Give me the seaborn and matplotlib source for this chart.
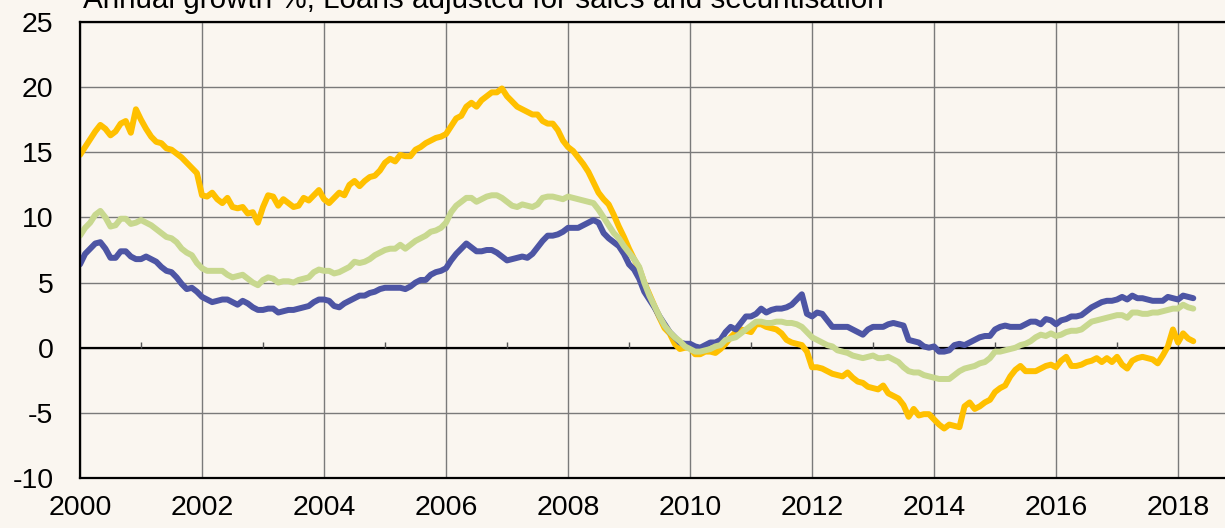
import numpy as np
import pandas as pd
import matplotlib
matplotlib.use("Agg")
import matplotlib.pyplot as plt
import seaborn as sns

# Monthly observations, Jan 2000 - Apr 2018
months = pd.date_range("2000-01-01", periods=220, freq="MS")

corporates = [
    14.8, 15.4, 16.0, 16.6, 17.1, 16.8, 16.3, 16.6, 17.2, 17.4, 16.5, 18.3,
    17.5, 16.8, 16.2, 15.8, 15.7, 15.3, 15.2, 14.9, 14.6, 14.2, 13.8, 13.4,
    11.7, 11.6, 11.9, 11.4, 11.1, 11.5, 10.8, 10.7, 10.8, 10.3, 10.4, 9.6,
    10.8, 11.7, 11.6, 10.9, 11.4, 11.1, 10.8, 10.9, 11.5, 11.3, 11.7, 12.1,
    11.4, 11.1, 11.5, 11.9, 11.7, 12.5, 12.8, 12.4, 12.8, 13.1, 13.2, 13.6,
    14.2, 14.5, 14.3, 14.8, 14.7, 14.7, 15.2, 15.4, 15.7, 15.9, 16.1, 16.2,
    16.4, 17.0, 17.6, 17.8, 18.5, 18.8, 18.5, 19.0, 19.3, 19.6, 19.6, 19.9,
    19.3, 18.9, 18.5, 18.3, 18.1, 17.9, 17.9, 17.4, 17.2, 17.2, 16.7, 15.9,
    15.4, 15.1, 14.6, 14.1, 13.5, 12.7, 11.9, 11.4, 11.0, 10.2, 9.3, 8.5,
    7.6, 6.8, 6.1, 5.0, 4.1, 3.2, 2.3, 1.5, 1.1, 0.3, -0.1, 0.0,
    0.0, -0.5, -0.5, -0.3, -0.3, -0.4, -0.1, 0.3, 0.8, 1.2, 1.4, 1.3,
    1.2, 1.8, 1.8, 1.6, 1.5, 1.4, 1.1, 0.6, 0.4, 0.3, 0.2, -0.3,
    -1.5, -1.5, -1.6, -1.8, -2.0, -2.1, -2.2, -1.9, -2.3, -2.6, -2.7, -3.0,
    -3.1, -3.2, -2.9, -3.5, -3.7, -3.9, -4.4, -5.3, -4.7, -5.2, -5.1, -5.1,
    -5.5, -5.9, -6.2, -5.9, -6.0, -6.1, -4.5, -4.2, -4.7, -4.5, -4.2, -4.0,
    -3.4, -3.1, -2.9, -2.2, -1.7, -1.4, -1.8, -1.8, -1.8, -1.6, -1.4, -1.3,
    -1.5, -1.0, -0.7, -1.4, -1.4, -1.3, -1.1, -1.0, -0.8, -1.1, -0.8, -1.1,
    -0.7, -1.3, -1.6, -1.0, -0.8, -0.7, -0.8, -0.9, -1.2, -0.6, 0.1, 1.4,
    0.4, 1.1, 0.7, 0.5,
]

households = [
    6.4, 7.2, 7.6, 8.0, 8.1, 7.6, 6.9, 6.9, 7.4, 7.4, 7.0, 6.8,
    6.8, 7.0, 6.8, 6.6, 6.2, 5.9, 5.8, 5.4, 4.9, 4.5, 4.6, 4.3,
    3.9, 3.7, 3.5, 3.6, 3.7, 3.7, 3.5, 3.3, 3.6, 3.4, 3.1, 2.9,
    2.9, 3.0, 3.0, 2.7, 2.8, 2.9, 2.9, 3.0, 3.1, 3.2, 3.5, 3.7,
    3.7, 3.6, 3.2, 3.1, 3.4, 3.6, 3.8, 4.0, 4.0, 4.2, 4.3, 4.5,
    4.6, 4.6, 4.6, 4.6, 4.5, 4.7, 5.0, 5.2, 5.2, 5.6, 5.8, 5.9,
    6.1, 6.7, 7.2, 7.6, 8.0, 7.7, 7.4, 7.4, 7.5, 7.5, 7.3, 7.0,
    6.7, 6.8, 6.9, 7.0, 6.9, 7.2, 7.7, 8.2, 8.6, 8.6, 8.7, 8.9,
    9.2, 9.2, 9.2, 9.4, 9.6, 9.8, 9.6, 8.8, 8.4, 8.1, 7.8, 7.2,
    6.4, 6.0, 5.3, 4.3, 3.7, 3.1, 2.4, 1.8, 1.2, 0.8, 0.4, 0.3,
    0.3, 0.1, 0.0, 0.2, 0.4, 0.4, 0.6, 1.2, 1.6, 1.4, 1.9, 2.4,
    2.4, 2.6, 3.0, 2.7, 2.9, 3.0, 3.0, 3.1, 3.3, 3.7, 4.1, 2.6,
    2.4, 2.7, 2.6, 2.1, 1.6, 1.6, 1.6, 1.6, 1.4, 1.2, 1.0, 1.4,
    1.6, 1.6, 1.6, 1.8, 1.9, 1.8, 1.7, 0.6, 0.5, 0.4, 0.1, 0.0,
    0.1, -0.3, -0.3, -0.2, 0.2, 0.3, 0.2, 0.4, 0.6, 0.8, 0.9, 0.9,
    1.4, 1.6, 1.7, 1.6, 1.6, 1.6, 1.8, 2.0, 2.0, 1.8, 2.2, 2.1,
    1.8, 2.1, 2.2, 2.4, 2.4, 2.5, 2.8, 3.1, 3.3, 3.5, 3.6, 3.6,
    3.7, 3.9, 3.7, 4.0, 3.8, 3.8, 3.7, 3.6, 3.6, 3.6, 3.9, 3.8,
    3.7, 4.0, 3.9, 3.8,
]

total = [
    8.6, 9.2, 9.6, 10.2, 10.5, 10.0, 9.3, 9.4, 9.9, 9.9, 9.5, 9.6,
    9.8, 9.6, 9.4, 9.1, 8.8, 8.5, 8.4, 8.1, 7.6, 7.3, 7.1, 6.5,
    6.1, 5.9, 5.9, 5.9, 5.9, 5.6, 5.4, 5.5, 5.6, 5.3, 5.0, 4.8,
    5.2, 5.4, 5.3, 5.0, 5.1, 5.1, 5.0, 5.2, 5.3, 5.4, 5.8, 6.0,
    5.9, 5.9, 5.7, 5.8, 6.0, 6.2, 6.6, 6.5, 6.6, 6.8, 7.1, 7.3,
    7.5, 7.6, 7.6, 7.9, 7.6, 7.9, 8.2, 8.4, 8.6, 8.9, 9.0, 9.2,
    9.6, 10.4, 10.9, 11.2, 11.5, 11.5, 11.2, 11.4, 11.6, 11.7, 11.7, 11.5,
    11.2, 10.9, 10.8, 11.0, 10.9, 10.8, 11.0, 11.5, 11.6, 11.6, 11.5, 11.4,
    11.6, 11.5, 11.4, 11.3, 11.2, 11.1, 10.6, 10.0, 9.4, 8.8, 8.4, 7.8,
    7.3, 6.8, 6.2, 5.0, 4.0, 3.2, 2.4, 1.7, 1.2, 0.8, 0.5, 0.1,
    -0.1, -0.3, -0.3, -0.2, -0.1, 0.1, 0.2, 0.6, 0.7, 0.8, 1.1, 1.4,
    1.7, 2.0, 2.0, 1.9, 1.9, 2.0, 2.0, 1.9, 1.9, 1.8, 1.6, 1.2,
    0.8, 0.6, 0.4, 0.2, 0.1, -0.2, -0.3, -0.4, -0.6, -0.7, -0.8, -0.7,
    -0.6, -0.8, -0.8, -0.7, -0.9, -1.1, -1.5, -1.8, -1.9, -1.9, -2.1, -2.2,
    -2.3, -2.4, -2.4, -2.4, -2.1, -1.8, -1.6, -1.5, -1.4, -1.2, -1.1, -0.8,
    -0.3, -0.3, -0.2, -0.1, 0.0, 0.2, 0.3, 0.5, 0.8, 1.0, 0.9, 1.1,
    0.9, 1.0, 1.2, 1.3, 1.3, 1.4, 1.7, 2.0, 2.1, 2.2, 2.3, 2.4,
    2.5, 2.5, 2.3, 2.7, 2.7, 2.6, 2.6, 2.7, 2.7, 2.8, 2.9, 3.0,
    3.0, 3.3, 3.1, 3.0,
]

series_names = ["Non-financial corporations", "Households", "Total"]
series_colors = ["#FFC000", "#4D55A4", "#C8D88F"]
title = "Annual growth %, Loans adjusted for sales and securitisation"

bg = "#FAF6F0"

# Long-form table for seaborn
year_frac = months.year + (months.month - 1) / 12
frames = []
for name, vals in zip(series_names, [corporates, households, total]):
    frames.append(pd.DataFrame({"year": year_frac, "growth": vals, "series": name}))
df = pd.concat(frames, ignore_index=True)

sns.set_theme(style="white")
plt.rcParams["font.family"] = ["Liberation Sans", "DejaVu Sans"]
plt.rcParams["axes.unicode_minus"] = False

fig, ax = plt.subplots(figsize=(12.25, 5.28), dpi=100)
fig.patch.set_facecolor(bg)
ax.set_facecolor(bg)
fig.subplots_adjust(left=80 / 1225, right=1.0, top=1 - 22 / 528, bottom=1 - 478 / 528)

sns.lineplot(data=df, x="year", y="growth", hue="series", hue_order=series_names,
             palette=series_colors, estimator=None, linewidth=4.3, legend=False, ax=ax)
for line in ax.get_lines():
    line.set_solid_capstyle("round")
    line.set_solid_joinstyle("round")

ax.set_xlim(2000, 2018.77)
ax.set_ylim(-10, 25)
ax.set_xticks(range(2000, 2019, 2))
ax.set_yticks(range(-10, 26, 5))
ax.set_xlabel("")
ax.set_ylabel("")

ax.set_axisbelow(True)
ax.grid(True, color="#7a7a7a", linewidth=1.0)

# zero line with small marks at odd years
ax.axhline(0, color="black", linewidth=1.6, zorder=1.5)
ax.vlines(range(2001, 2019, 2), 0, 0.45, color="#555555", linewidth=1.0, zorder=1.5)

for side in ["left", "top", "bottom"]:
    ax.spines[side].set_visible(True)
    ax.spines[side].set_color("black")
    ax.spines[side].set_linewidth(1.6)
ax.spines["right"].set_visible(False)

ax.tick_params(axis="both", length=0, labelsize=20.5, colors="black")
ax.tick_params(axis="y", pad=19)
ax.tick_params(axis="x", pad=12)

fig.text(83 / 1225, 1 - 8 / 528, title, fontsize=21.3, ha="left", va="baseline", color="black")

fig.savefig("out.png", dpi=100, facecolor=bg)
